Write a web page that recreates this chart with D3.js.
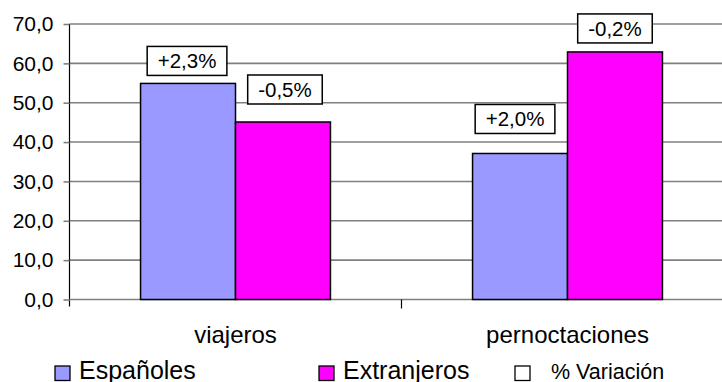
<!DOCTYPE html>
<html>
<head>
<meta charset="utf-8">
<script src="https://cdn.jsdelivr.net/npm/d3@7"></script>
<style>
  html, body { margin: 0; padding: 0; background: #fff; overflow: hidden; }
  svg { display: block; font-family: "Liberation Sans", Arial, sans-serif; }
</style>
</head>
<body>
<div id="chart"></div>
<script>
// data
const categories = ["viajeros", "pernoctaciones"];
const seriesNames = ["Españoles", "Extranjeros"];
const espanoles = [54.9, 37.1];
const extranjeros = [45.1, 62.9];
const variacionEspanoles = ["+2,3%", "+2,0%"];
const variacionExtranjeros = ["-0,5%", "-0,2%"];
const yTicks = [0, 10, 20, 30, 40, 50, 60, 70];

const width = 722, height = 382;
const colors = ["#9999ff", "#ff00ff"];

const svg = d3.select("#chart").append("svg")
    .attr("width", width)
    .attr("height", height);

const x0 = d3.scaleBand().domain(categories).range([69.5, 733.5]);
const bw = x0.bandwidth();
const x1 = d3.scaleBand().domain(seriesNames)
    .range([bw * 0.214, bw * 0.786]);
const y = d3.scaleLinear().domain([0, 70]).range([299.5, 24]);

// gridlines
svg.append("g")
    .selectAll("line")
    .data(yTicks.slice(1))
    .enter().append("line")
    .attr("x1", 69.5).attr("x2", width)
    .attr("y1", d => y(d)).attr("y2", d => y(d))
    .attr("stroke", "#808080")
    .attr("stroke-width", 1.6);

// y axis
const yAxis = svg.append("g")
    .attr("transform", "translate(69.5,0)")
    .call(d3.axisLeft(y).tickValues(yTicks).tickSize(6).tickPadding(10)
        .tickFormat(d => d3.format(".1f")(d).replace(".", ",")));
yAxis.select(".domain").attr("stroke", "#000").attr("stroke-width", 1.2)
    .attr("d", `M0,${y(70)}V${y(0) + 7}`);
yAxis.selectAll(".tick line").attr("stroke", "#808080").attr("stroke-width", 1.6);
yAxis.selectAll(".tick text")
    .attr("font-size", "21px")
    .attr("font-family", "Liberation Sans, Arial, sans-serif")
    .attr("fill", "#000");

// x axis line (gray) + category divider ticks
svg.append("line")
    .attr("x1", 69.5).attr("x2", width)
    .attr("y1", y(0)).attr("y2", y(0))
    .attr("stroke", "#808080").attr("stroke-width", 1.6);
svg.append("g")
    .selectAll("line")
    .data(categories.slice(1))
    .enter().append("line")
    .attr("x1", d => x0(d)).attr("x2", d => x0(d))
    .attr("y1", y(0)).attr("y2", y(0) + 9)
    .attr("stroke", "#000").attr("stroke-width", 1.2);

// category labels
svg.append("g")
    .selectAll("text")
    .data(categories)
    .enter().append("text")
    .attr("x", d => x0(d) + bw / 2)
    .attr("y", 343)
    .attr("text-anchor", "middle")
    .attr("font-size", "24px")
    .text(d => d);

// bars
const rows = categories.map((c, i) => ({
    cat: c,
    vals: [
        { s: seriesNames[0], v: espanoles[i], lab: variacionEspanoles[i] },
        { s: seriesNames[1], v: extranjeros[i], lab: variacionExtranjeros[i] }
    ]
}));

const groups = svg.append("g")
    .selectAll("g")
    .data(rows)
    .enter().append("g")
    .attr("transform", d => `translate(${x0(d.cat)},0)`);

groups.selectAll("rect")
    .data(d => d.vals)
    .enter().append("rect")
    .attr("x", d => x1(d.s))
    .attr("y", d => y(d.v))
    .attr("width", x1.bandwidth())
    .attr("height", d => y(0) - y(d.v))
    .attr("fill", (d, i) => colors[i])
    .attr("stroke", "#000")
    .attr("stroke-width", 1.5);

// % variation boxes (hand placed in the original, so gaps differ)
const labelGap = [[8, 18], [20, 9]];
const labelShift = [[-1, 2], [-5, 0]];
groups.each(function (row, ci) {
    const g = d3.select(this);
    row.vals.forEach((d, si) => {
        const cx = x1(d.s) + x1.bandwidth() / 2 + labelShift[ci][si];
        const bottom = y(d.v) - labelGap[ci][si];
        const lg = g.append("g");
        const t = lg.append("text")
            .attr("x", cx)
            .attr("y", bottom - 7)
            .attr("text-anchor", "middle")
            .attr("font-size", "20.5px")
            .text(d.lab);
        const tw = t.node().getComputedTextLength();
        lg.insert("rect", "text")
            .attr("x", cx - tw / 2 - 10.5)
            .attr("y", bottom - 29)
            .attr("width", tw + 21)
            .attr("height", 29)
            .attr("fill", "#fff")
            .attr("stroke", "#000")
            .attr("stroke-width", 1.5);
    });
});

// legend
const legendItems = [
    { name: "Españoles", fill: colors[0], x: 55, size: "25px" },
    { name: "Extranjeros", fill: colors[1], x: 319, size: "25px" },
    { name: "% Variación", fill: "#fff", x: 515, size: "21.5px", gap: 36 }
];
const legend = svg.append("g")
    .selectAll("g")
    .data(legendItems)
    .enter().append("g");
legend.append("rect")
    .attr("x", d => d.x)
    .attr("y", 366)
    .attr("width", 15)
    .attr("height", 14.5)
    .attr("fill", d => d.fill)
    .attr("stroke", "#000")
    .attr("stroke-width", 1.3);
legend.append("text")
    .attr("x", d => d.x + (d.gap || 24))
    .attr("y", 378.5)
    .attr("font-size", d => d.size)
    .text(d => d.name);
</script>
</body>
</html>
